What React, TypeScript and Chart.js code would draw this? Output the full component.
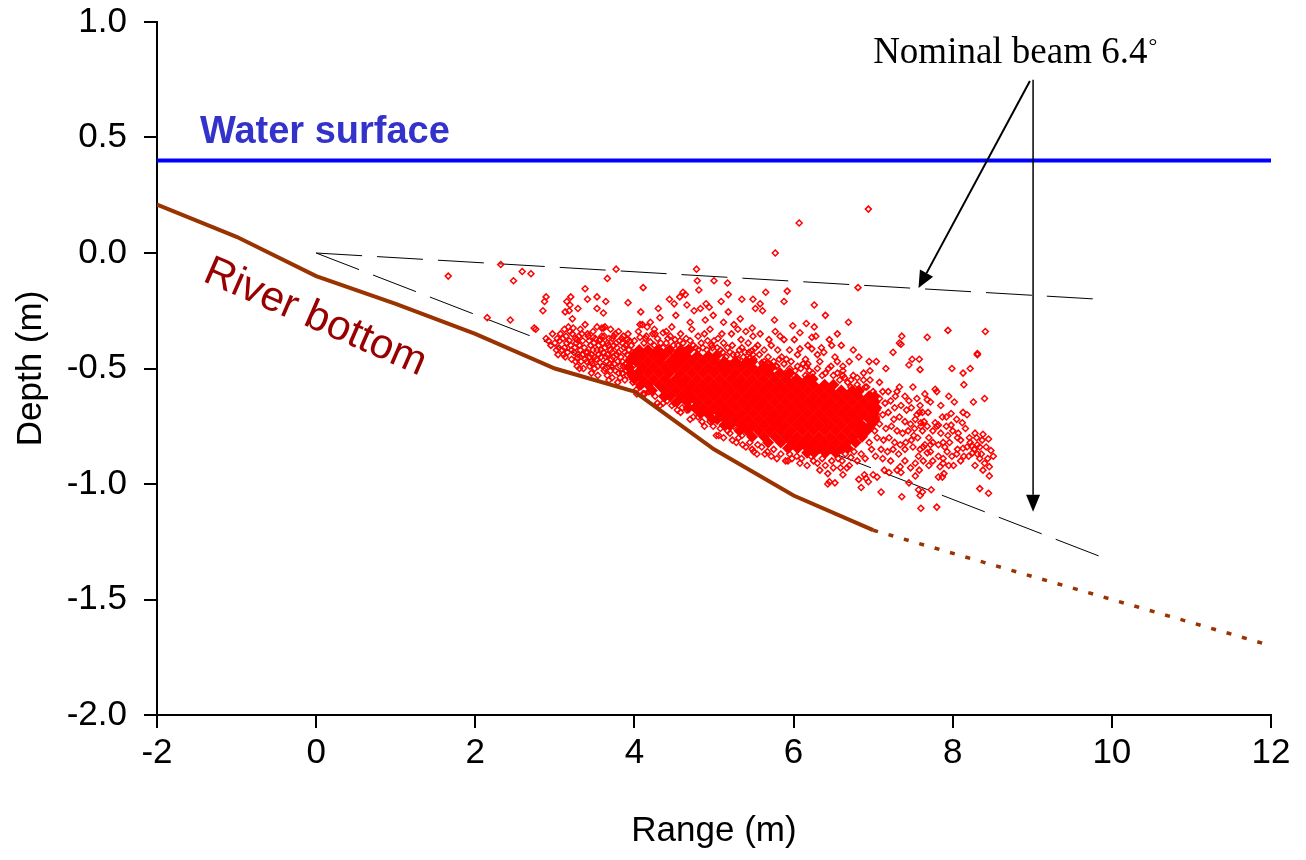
import React, { useEffect, useRef } from 'react';
import { Chart, registerables } from 'chart.js';

Chart.register(...registerables);

// ---------- axis ticks ----------
const xTicks = [-2, 0, 2, 4, 6, 8, 10, 12];
const yTicks = [1.0, 0.5, 0.0, -0.5, -1.0, -1.5, -2.0];

// ---------- lines ----------
const waterX = [-2, 12];
const waterY = [0.4, 0.4];
const bottomX = [-2, -1, 0, 1, 2, 3, 4, 5, 6, 7];
const bottomY = [0.21, 0.07, -0.1, -0.22, -0.35, -0.5, -0.6, -0.85, -1.05, -1.2];
const bottomExtX = [7, 12];
const bottomExtY = [-1.2, -1.7];
const beamUpperX = [0, 9.83];
const beamUpperY = [0, -0.2];
const beamLowerX = [0, 9.9];
const beamLowerY = [0, -1.32];

// ---------- dense core of echoes (rows of overlapping returns) ----------
const coreRowY = [-0.42, -0.445, -0.47, -0.495, -0.52, -0.545, -0.57, -0.595, -0.62, -0.645, -0.67, -0.695, -0.72, -0.745, -0.77, -0.795, -0.82, -0.845, -0.865];
const coreRowX = [
  [4.06, 4.17, 4.30, 4.44, 4.58, 4.68],
  [3.99, 4.10, 4.24, 4.37, 4.52, 4.65, 4.79, 4.93, 5.03],
  [3.95, 4.03, 4.17, 4.31, 4.45, 4.58, 4.72, 4.86, 5.00, 5.13, 5.27, 5.41, 5.48],
  [3.93, 4.10, 4.24, 4.38, 4.51, 4.65, 4.79, 4.93, 5.07, 5.20, 5.34, 5.48, 5.62, 5.72],
  [3.96, 4.04, 4.17, 4.31, 4.44, 4.58, 4.72, 4.86, 5.00, 5.14, 5.27, 5.41, 5.55, 5.69, 5.83, 5.95],
  [4.00, 4.10, 4.24, 4.38, 4.52, 4.65, 4.79, 4.93, 5.07, 5.21, 5.34, 5.48, 5.62, 5.76, 5.90, 6.04, 6.18, 6.24],
  [4.08, 4.17, 4.31, 4.45, 4.59, 4.72, 4.86, 5.00, 5.14, 5.28, 5.41, 5.55, 5.69, 5.83, 5.97, 6.11, 6.25, 6.39, 6.50],
  [4.22, 4.38, 4.52, 4.66, 4.79, 4.93, 5.07, 5.21, 5.35, 5.48, 5.62, 5.76, 5.90, 6.04, 6.18, 6.32, 6.46, 6.60, 6.74, 6.82],
  [4.37, 4.45, 4.59, 4.72, 4.86, 5.00, 5.14, 5.28, 5.42, 5.55, 5.69, 5.83, 5.97, 6.11, 6.25, 6.39, 6.53, 6.67, 6.81, 6.95, 7.02],
  [4.53, 4.66, 4.79, 4.93, 5.07, 5.21, 5.35, 5.49, 5.62, 5.76, 5.90, 6.04, 6.18, 6.32, 6.46, 6.60, 6.74, 6.88, 7.02],
  [4.68, 4.76, 4.86, 5.00, 5.14, 5.28, 5.42, 5.56, 5.69, 5.83, 5.97, 6.11, 6.25, 6.39, 6.53, 6.67, 6.81, 6.95, 7.04],
  [4.83, 4.93, 5.07, 5.21, 5.35, 5.49, 5.63, 5.76, 5.90, 6.04, 6.18, 6.32, 6.46, 6.60, 6.74, 6.88, 7.01],
  [4.98, 5.04, 5.14, 5.28, 5.42, 5.56, 5.70, 5.83, 5.97, 6.11, 6.25, 6.39, 6.53, 6.67, 6.81, 6.95, 7.02],
  [5.13, 5.21, 5.35, 5.49, 5.63, 5.77, 5.90, 6.04, 6.18, 6.32, 6.46, 6.60, 6.74, 6.86, 6.97],
  [5.32, 5.42, 5.56, 5.70, 5.84, 5.97, 6.11, 6.25, 6.39, 6.53, 6.67, 6.81, 6.92],
  [5.48, 5.63, 5.77, 5.91, 6.04, 6.18, 6.32, 6.46, 6.60, 6.74, 6.86],
  [5.68, 5.84, 5.98, 6.11, 6.25, 6.39, 6.53, 6.67, 6.78],
  [5.93, 6.05, 6.18, 6.32, 6.46, 6.60, 6.68],
  [6.17, 6.26, 6.40, 6.53],
];

// ---------- individual echoes ----------
const echoTop: [number, number][] = [
  [1.66, -0.10], [2.32, -0.05], [2.59, -0.08], [2.48, -0.12], [2.70, -0.09], [2.15, -0.28], [2.44, -0.29], [2.74, -0.325], [2.76, -0.33],
  [2.89, -0.19], [2.87, -0.21], [2.85, -0.25], [3.38, -0.155], [3.77, -0.07], [3.66, -0.11], [3.20, -0.19], [3.15, -0.21], [3.41, -0.20],
  [3.53, -0.19], [3.64, -0.21], [3.92, -0.215], [3.19, -0.225], [3.29, -0.24], [3.13, -0.255], [3.18, -0.25], [3.53, -0.24], [3.61, -0.26],
  [3.22, -0.285], [3.63, -0.32], [3.53, -0.32], [3.61, -0.325],
  [6.07, 0.13], [5.77, 0.00], [4.78, -0.07], [4.11, -0.15], [4.79, -0.12], [5.00, -0.12], [5.17, -0.13], [4.81, -0.16], [5.18, -0.18],
  [4.44, -0.20], [4.57, -0.19], [4.61, -0.17], [4.64, -0.18], [4.66, -0.225], [5.09, -0.21], [4.90, -0.22], [4.94, -0.235], [4.83, -0.24],
  [4.75, -0.25], [5.49, -0.20], [5.58, -0.22], [5.52, -0.24], [5.61, -0.25], [5.88, -0.21], [5.92, -0.165], [6.26, -0.225], [5.18, -0.255],
  [4.08, -0.255], [4.99, -0.27], [4.89, -0.29], [4.70, -0.30], [5.33, -0.285], [5.25, -0.31], [5.76, -0.29], [4.07, -0.31], [4.10, -0.31],
  [4.16, -0.32], [4.26, -0.35], [4.36, -0.345], [5.40, -0.34], [5.48, -0.325], [5.49, -0.36], [5.58, -0.35], [5.77, -0.34], [5.83, -0.36],
  [5.88, -0.375], [5.69, -0.375], [5.34, -0.375], [5.99, -0.315], [6.16, -0.305], [6.26, -0.32], [6.08, -0.345], [6.01, -0.375], [6.23, -0.365],
  [6.28, -0.36], [6.08, -0.415], [6.23, -0.415], [5.91, -0.46], [6.15, -0.46], [6.18, -0.48], [4.07, -0.365], [5.47, -0.425], [5.49, -0.44],
  [5.78, -0.49], [5.67, -0.475], [5.61, -0.48],
  [6.94, 0.19], [6.81, -0.15], [6.69, -0.30], [6.45, -0.375], [6.38, -0.43], [7.36, -0.36], [7.33, -0.39], [7.35, -0.395], [7.25, -0.43],
  [7.68, -0.365], [7.94, -0.335], [8.41, -0.34], [8.31, -0.435], [8.31, -0.44], [7.04, -0.47], [6.62, -0.49], [7.16, -0.50], [7.49, -0.46],
  [7.58, -0.46], [7.45, -0.485], [7.99, -0.50], [8.22, -0.50], [7.59, -0.505],
  [4.20, -0.30], [4.32, -0.28], [4.47, -0.32], [4.52, -0.27], [4.58, -0.35], [4.72, -0.33], [4.80, -0.36], [4.95, -0.33], [5.05, -0.37],
  [5.12, -0.30], [5.22, -0.35], [5.30, -0.33], [5.43, -0.39], [5.55, -0.40], [5.63, -0.42], [5.72, -0.40], [5.80, -0.42], [5.95, -0.42],
  [6.05, -0.44], [6.18, -0.40], [6.35, -0.41], [6.48, -0.40], [6.55, -0.47], [6.70, -0.47], [6.82, -0.45], [6.95, -0.47], [4.25, -0.33],
  [4.40, -0.34], [4.88, -0.35], [5.00, -0.38], [5.12, -0.39], [5.35, -0.41], [5.10, -0.35], [4.65, -0.37], [4.30, -0.24], [4.50, -0.22],
  [5.35, -0.20], [5.65, -0.17], [6.40, -0.27], [6.55, -0.35], [6.60, -0.40], [6.75, -0.42],
];

const echoTail: [number, number][] = [
  [8.13, -0.52], [8.14, -0.57], [8.40, -0.63], [8.26, -0.645], [8.02, -0.645], [8.13, -0.69], [8.18, -0.70], [7.87, -0.71], [7.72, -0.645],
  [7.68, -0.635], [7.59, -0.66], [7.33, -0.58], [7.28, -0.62], [7.19, -0.60], [7.62, -0.69], [7.69, -0.69], [7.64, -0.73], [7.78, -0.735],
  [7.80, -0.75], [7.98, -0.745], [8.12, -0.735], [8.16, -0.76], [7.60, -0.75], [7.68, -0.75], [7.94, -0.79], [8.07, -0.78], [8.21, -0.80],
  [8.38, -0.785], [8.45, -0.805], [8.37, -0.81], [8.31, -0.83], [8.34, -0.84], [8.42, -0.84], [8.48, -0.855], [8.51, -0.88], [8.25, -0.865],
  [8.31, -0.87], [8.34, -0.89], [8.44, -0.89], [8.46, -0.925], [8.46, -0.965], [8.38, -0.94], [8.34, -1.02], [8.45, -1.04], [8.01, -0.92],
  [7.87, -0.97], [7.82, -0.97], [7.89, -0.955], [7.73, -1.025], [7.80, -1.10], [7.60, -1.105], [7.59, -1.05], [7.62, -1.035], [7.57, -1.025],
  [7.45, -0.995], [7.36, -1.055], [7.10, -1.035], [7.34, -0.925], [7.35, -0.95], [7.14, -0.94], [7.05, -0.97], [7.53, -0.965], [6.85, -1.015],
  [6.82, -0.98], [6.91, -0.975], [6.89, -0.96], [7.00, -0.96], [6.94, -0.99], [6.72, -0.885],
  [8.13, -0.845], [8.14, -0.88], [8.06, -0.85], [7.99, -0.88], [7.93, -0.86], [7.88, -0.89], [7.82, -0.88], [7.75, -0.90], [7.88, -0.91],
  [7.84, -0.925], [7.65, -0.83], [7.72, -0.83], [7.75, -0.82], [7.82, -0.83], [7.88, -0.82], [7.96, -0.82], [8.22, -0.82], [8.27, -0.85],
  [8.24, -0.835], [7.82, -0.745], [7.98, -0.695], [7.60, -0.735], [7.75, -0.77], [7.50, -0.84], [7.59, -0.85], [7.57, -0.88], [7.63, -0.90],
  [7.68, -0.865], [7.47, -0.93], [7.53, -0.91], [7.78, -0.59], [7.80, -0.60], [7.58, -0.69], [8.06, -0.80], [8.28, -0.78],
  [7.00, -0.60], [7.08, -0.63], [7.15, -0.65], [7.22, -0.64], [7.27, -0.67], [7.35, -0.66], [7.42, -0.68], [7.48, -0.67], [7.55, -0.70],
  [7.05, -0.68], [7.12, -0.70], [7.19, -0.69], [7.26, -0.72], [7.33, -0.71], [7.40, -0.73], [7.47, -0.74], [7.53, -0.72], [7.08, -0.74],
  [7.16, -0.76], [7.23, -0.75], [7.30, -0.77], [7.37, -0.78], [7.44, -0.77], [7.51, -0.79], [7.05, -0.80], [7.13, -0.81], [7.20, -0.80],
  [7.27, -0.82], [7.34, -0.83], [7.41, -0.82], [7.10, -0.85], [7.18, -0.86], [7.25, -0.85], [7.32, -0.87], [7.03, -0.88], [7.12, -0.89],
  [7.22, -0.90], [6.98, -0.85], [6.99, -0.71], [7.02, -0.77], [7.40, -0.62], [7.30, -0.60], [7.45, -0.64], [6.62, -0.53], [6.72, -0.55],
  [6.80, -0.54], [6.88, -0.52], [6.96, -0.51], [6.96, -0.55], [6.92, -0.58], [7.08, -0.56], [7.12, -0.60],
  [7.62, -0.77], [7.70, -0.80], [7.85, -0.78], [7.92, -0.75], [8.00, -0.77], [8.10, -0.81], [8.18, -0.84], [8.30, -0.80], [8.36, -0.87],
  [8.40, -0.91], [8.28, -0.92], [8.20, -0.88], [8.10, -0.90], [7.95, -0.92], [7.70, -0.92], [7.58, -0.94], [7.40, -0.90], [7.30, -0.94],
  [7.20, -0.95], [7.40, -0.85], [7.48, -0.81], [7.56, -0.80], [7.63, -0.84], [7.72, -0.86], [7.90, -0.84], [8.05, -0.87], [7.65, -0.61],
  [7.55, -0.63], [7.50, -0.58], [7.85, -0.66], [7.95, -0.62], [8.05, -0.72], [7.92, -0.71], [7.52, -0.76],
];

const echoFringe: [number, number][] = [
  [4.20, -0.385], [4.36, -0.41], [4.51, -0.375], [4.61, -0.39], [4.74, -0.40], [4.86, -0.41], [4.98, -0.41], [5.08, -0.42], [5.20, -0.43],
  [5.29, -0.44], [5.39, -0.43], [5.45, -0.455], [5.60, -0.475], [5.70, -0.48], [5.79, -0.49], [5.95, -0.50], [6.05, -0.49], [6.20, -0.51],
  [6.30, -0.50], [6.40, -0.52], [6.50, -0.53], [6.58, -0.55], [6.68, -0.56], [6.80, -0.57], [6.90, -0.58], [6.33, -0.47], [6.47, -0.49],
  [6.62, -0.51], [6.75, -0.53], [6.88, -0.55], [6.30, -0.44], [6.52, -0.45], [6.12, -0.48], [5.85, -0.45], [5.52, -0.41], [5.23, -0.40],
  [4.92, -0.38], [4.45, -0.36], [4.29, -0.37], [4.00, -0.38], [4.12, -0.39], [4.25, -0.40], [4.40, -0.39], [4.55, -0.40], [4.68, -0.41],
  [4.80, -0.42], [4.15, -0.36], [5.30, -0.46], [5.40, -0.47], [5.15, -0.45], [5.90, -0.52], [6.00, -0.53], [6.15, -0.53],
  [4.05, -0.34], [4.14, -0.37], [4.23, -0.35], [4.33, -0.39], [4.42, -0.37], [4.49, -0.40], [4.57, -0.38], [4.64, -0.42], [4.70, -0.38],
  [4.77, -0.41], [4.84, -0.39], [4.91, -0.42], [4.97, -0.40], [5.04, -0.41], [5.11, -0.43], [5.17, -0.41], [5.24, -0.44], [5.32, -0.42],
  [5.37, -0.45], [5.44, -0.43], [5.50, -0.46], [5.57, -0.44], [5.63, -0.47], [5.68, -0.45], [5.75, -0.47], [5.82, -0.46], [5.88, -0.48],
  [5.97, -0.47], [6.02, -0.51], [6.09, -0.50], [6.16, -0.49], [6.24, -0.52], [6.36, -0.53], [6.44, -0.50], [6.55, -0.52], [6.64, -0.54],
  [6.72, -0.58], [6.84, -0.60], [6.93, -0.62], [7.02, -0.64], [4.22, -0.43], [4.34, -0.44], [4.48, -0.43], [4.62, -0.44], [4.76, -0.45],
  [4.90, -0.46], [5.05, -0.47], [5.20, -0.48], [5.34, -0.49], [5.50, -0.51], [5.64, -0.52], [5.78, -0.53], [5.92, -0.55],
  [4.29, -0.65], [4.36, -0.65], [4.54, -0.68], [4.74, -0.71], [4.91, -0.70], [5.06, -0.79], [5.28, -0.82], [5.40, -0.84], [5.54, -0.87],
  [5.67, -0.86], [5.79, -0.89], [5.93, -0.90], [6.17, -0.92], [6.04, -0.88], [4.13, -0.61], [4.03, -0.59], [4.99, -0.75], [5.17, -0.77],
  [5.25, -0.75], [4.41, -0.64], [4.32, -0.66], [4.11, -0.61], [5.03, -0.79], [5.23, -0.81], [5.36, -0.83], [5.50, -0.86], [5.64, -0.87],
  [5.90, -0.90], [6.43, -1.00], [6.52, -0.995], [6.62, -0.96], [6.43, -0.955], [6.33, -0.94], [6.59, -0.93], [6.25, -0.90], [6.40, -0.92],
  [6.50, -0.93], [6.70, -0.92], [6.80, -0.90], [6.90, -0.89], [5.35, -0.79], [5.55, -0.83], [5.75, -0.85], [5.95, -0.87], [6.10, -0.89],
  [4.60, -0.67], [4.85, -0.73], [4.47, -0.66], [6.61, -0.90], [6.67, -0.93], [6.45, -0.99],
  [4.06, -0.58], [4.18, -0.60], [4.26, -0.62], [4.38, -0.63], [4.50, -0.65], [4.58, -0.69], [4.66, -0.68], [4.70, -0.72], [4.80, -0.71],
  [4.88, -0.75], [4.95, -0.73], [5.08, -0.76], [5.12, -0.80], [5.20, -0.78], [5.31, -0.80], [5.45, -0.82], [5.48, -0.85], [5.60, -0.84],
  [5.72, -0.88], [5.84, -0.87], [5.98, -0.89], [6.08, -0.91], [6.22, -0.88], [6.30, -0.91], [6.36, -0.89], [6.48, -0.90], [6.56, -0.89],
  [6.65, -0.87], [6.76, -0.86], [6.85, -0.87], [6.95, -0.82], [7.00, -0.74], [6.98, -0.66], [7.04, -0.71],
];

const echoLeft: [number, number][] = [
  [2.89, -0.37], [2.92, -0.38], [2.95, -0.40], [3.03, -0.37], [3.07, -0.35], [3.12, -0.33], [3.17, -0.32], [3.22, -0.35], [3.23, -0.325],
  [3.32, -0.33], [3.38, -0.31], [3.28, -0.375], [3.15, -0.39], [3.09, -0.42], [3.04, -0.44], [3.13, -0.45], [3.28, -0.455], [3.28, -0.49],
  [3.46, -0.52], [3.41, -0.35], [3.48, -0.365], [3.59, -0.325], [3.57, -0.375], [3.66, -0.39], [3.72, -0.37], [3.78, -0.41], [3.85, -0.39],
  [3.91, -0.375], [3.73, -0.45], [3.61, -0.43], [3.48, -0.42], [3.41, -0.43], [3.32, -0.42], [3.57, -0.475], [3.82, -0.49], [3.72, -0.54],
  [3.82, -0.54], [3.98, -0.56], [4.03, -0.61], [4.11, -0.61],
  [3.35, -0.38], [3.45, -0.40], [3.55, -0.40], [3.62, -0.36], [3.70, -0.42], [3.78, -0.44], [3.88, -0.43], [3.93, -0.46], [3.85, -0.47],
  [3.75, -0.48], [3.65, -0.47], [3.52, -0.46], [3.40, -0.47], [3.35, -0.44], [3.25, -0.41], [3.18, -0.38], [3.12, -0.41], [3.62, -0.51],
  [3.70, -0.51], [3.90, -0.51], [3.95, -0.53], [3.85, -0.52], [3.50, -0.50], [3.55, -0.44], [3.96, -0.40], [3.98, -0.43], [3.92, -0.35],
  [3.86, -0.36], [3.80, -0.34], [3.70, -0.33], [3.48, -0.34], [3.98, -0.49],
  [3.00, -0.39], [3.05, -0.41], [3.10, -0.37], [3.14, -0.36], [3.20, -0.40], [3.24, -0.43], [3.27, -0.39], [3.30, -0.36], [3.33, -0.47],
  [3.37, -0.41], [3.43, -0.38], [3.44, -0.45], [3.47, -0.48], [3.51, -0.37], [3.53, -0.42], [3.58, -0.45], [3.60, -0.39], [3.63, -0.41],
  [3.66, -0.44], [3.68, -0.37], [3.71, -0.46], [3.74, -0.40], [3.76, -0.35], [3.79, -0.47], [3.81, -0.38], [3.83, -0.45], [3.87, -0.41],
  [3.89, -0.48], [3.91, -0.44], [3.94, -0.38], [3.60, -0.49], [3.66, -0.53], [3.76, -0.51], [3.88, -0.55], [3.44, -0.49], [3.21, -0.46],
  [3.16, -0.43], [3.36, -0.50], [3.54, -0.53], [3.79, -0.56],
  [2.97, -0.35], [3.02, -0.42], [3.06, -0.38], [3.11, -0.44], [3.19, -0.34], [3.21, -0.42], [3.26, -0.37], [3.29, -0.44], [3.31, -0.40],
  [3.34, -0.35], [3.39, -0.43], [3.42, -0.36], [3.46, -0.44], [3.49, -0.39], [3.50, -0.45], [3.56, -0.38], [3.58, -0.42], [3.59, -0.36],
  [3.64, -0.45], [3.67, -0.40], [3.69, -0.48], [3.72, -0.43], [3.74, -0.36], [3.77, -0.39], [3.80, -0.43], [3.84, -0.37], [3.86, -0.49],
  [3.89, -0.40], [3.93, -0.42], [3.95, -0.47], [3.38, -0.46], [3.46, -0.47], [3.54, -0.49], [3.63, -0.50], [3.71, -0.49], [3.80, -0.52],
  [3.91, -0.53], [3.68, -0.55], [3.26, -0.47], [3.31, -0.50],
];

const SANS = '"Liberation Sans", Arial, sans-serif';
const SERIF = '"Liberation Serif", "Times New Roman", serif';

const toXY = (xs: number[], ys: number[]) => xs.map((x, i) => ({ x, y: ys[i] }));

function drawArrow(ctx: CanvasRenderingContext2D, x1: number, y1: number, x2: number, y2: number, len: number, w: number) {
  const a = Math.atan2(y2 - y1, x2 - x1);
  const bx = x2 - len * Math.cos(a);
  const by = y2 - len * Math.sin(a);
  ctx.beginPath();
  ctx.moveTo(x1, y1);
  ctx.lineTo(bx, by);
  ctx.stroke();
  ctx.beginPath();
  ctx.moveTo(x2, y2);
  ctx.lineTo(bx + (w / 2) * Math.sin(a), by - (w / 2) * Math.cos(a));
  ctx.lineTo(bx - (w / 2) * Math.sin(a), by + (w / 2) * Math.cos(a));
  ctx.closePath();
  ctx.fill();
}

const annotations = {
  id: 'annotations',
  afterDatasetsDraw(chart: any) {
    const { ctx } = chart;
    const xs = chart.scales.x;
    const ys = chart.scales.y;
    const px = (v: number) => xs.getPixelForValue(v);
    const py = (v: number) => ys.getPixelForValue(v);
    ctx.save();

    // Water surface label
    ctx.font = `bold 38px ${SANS}`;
    ctx.fillStyle = '#3333CC';
    ctx.textAlign = 'left';
    ctx.textBaseline = 'alphabetic';
    ctx.fillText('Water surface', px(-1.46), py(0.476));

    // River bottom label (rotated)
    ctx.save();
    ctx.translate(px(-0.07), py(-0.325));
    ctx.rotate((23.6 * Math.PI) / 180);
    ctx.font = `42px ${SANS}`;
    ctx.fillStyle = '#990000';
    ctx.textAlign = 'center';
    ctx.fillText('River bottom', 0, 0);
    ctx.restore();

    // Nominal beam label
    ctx.font = `37px ${SERIF}`;
    ctx.fillStyle = '#000000';
    ctx.textAlign = 'left';
    const tx = px(7.0);
    const ty = py(0.823);
    const main = 'Nominal beam 6.4';
    ctx.fillText(main, tx, ty);
    const mw = ctx.measureText(main).width;
    ctx.font = `22px ${SERIF}`;
    ctx.fillText('°', tx + mw + 1, ty - 10);

    // Arrows
    ctx.strokeStyle = '#000000';
    ctx.fillStyle = '#000000';
    ctx.lineWidth = 2;
    drawArrow(ctx, px(8.97), py(0.745), px(7.57), py(-0.152), 17, 15);
    ctx.lineWidth = 1.5;
    drawArrow(ctx, px(9.01), py(0.75), px(9.01), py(-1.12), 17, 14);

    ctx.restore();
  },
};

export default function App() {
  const canvasRef = useRef<HTMLCanvasElement | null>(null);

  useEffect(() => {
    document.body.style.margin = '0';
    const canvas = canvasRef.current;
    if (!canvas) return;

    const coreData = coreRowX.flatMap((row, i) => row.map((x) => ({ x, y: coreRowY[i] })));
    const echoData = [...echoLeft, ...echoTop, ...echoFringe, ...echoTail].map(([x, y]) => ({ x, y }));

    const chart = new Chart(canvas, {
      type: 'scatter',
      data: {
        datasets: [
          {
            label: 'Water surface',
            data: toXY(waterX, waterY),
            showLine: true,
            borderColor: '#0000FF',
            borderWidth: 4,
            pointRadius: 0,
            order: 0,
          } as any,
          {
            label: 'River bottom',
            data: toXY(bottomX, bottomY),
            showLine: true,
            borderColor: '#993300',
            borderWidth: 4,
            pointRadius: 0,
            order: 0,
          },
          {
            label: 'River bottom (extrapolated)',
            data: toXY(bottomExtX, bottomExtY),
            showLine: true,
            borderColor: '#993300',
            borderWidth: 3.5,
            borderDash: [5, 11],
            pointRadius: 0,
            order: 0,
          },
          {
            label: 'Beam upper',
            data: toXY(beamUpperX, beamUpperY),
            showLine: true,
            borderColor: '#000000',
            borderWidth: 1,
            borderDash: [46, 15],
            pointRadius: 0,
            order: 5,
          },
          {
            label: 'Beam lower',
            data: toXY(beamLowerX, beamLowerY),
            showLine: true,
            borderColor: '#000000',
            borderWidth: 1,
            borderDash: [46, 15],
            pointRadius: 0,
            order: 5,
          },
          {
            label: 'Echoes',
            data: echoData,
            showLine: false,
            pointStyle: 'rectRot',
            pointRadius: 3,
            pointBorderWidth: 1.5,
            pointBorderColor: '#FF0000',
            pointBackgroundColor: 'rgba(0,0,0,0)',
            borderColor: '#FF0000',
            backgroundColor: 'rgba(0,0,0,0)',
            order: 1,
          } as any,
          {
            label: 'Echoes (dense)',
            data: coreData,
            showLine: false,
            pointStyle: 'rectRot',
            pointRadius: 6,
            pointBorderWidth: 0,
            pointBackgroundColor: '#FF0000',
            backgroundColor: '#FF0000',
            borderColor: '#FF0000',
            order: 2,
          } as any,
        ],
      },
      options: {
        animation: false,
        responsive: false,
        devicePixelRatio: 1,
        layout: { padding: { top: 22, right: 35, left: 0, bottom: 0 } },
        plugins: {
          legend: { display: false },
          tooltip: { enabled: false },
        },
        scales: {
          x: {
            type: 'linear',
            min: -2,
            max: 12,
            afterBuildTicks: (s: any) => {
              s.ticks = xTicks.map((v) => ({ value: v }));
            },
            afterFit: (s: any) => {
              s.height = 145;
              s.paddingLeft = 0;
              s.paddingRight = 0;
            },
            ticks: {
              color: '#000',
              font: { family: SANS, size: 35 },
              padding: 4,
              maxRotation: 0,
              autoSkip: false,
              callback: (v: any) => String(v),
            },
            grid: { drawOnChartArea: false, drawTicks: true, tickLength: 13, color: '#000', lineWidth: 2 },
            border: { display: true, color: '#000', width: 2 },
            title: {
              display: true,
              text: 'Range (m)',
              color: '#000',
              font: { family: SANS, size: 35 },
              padding: { top: 0, bottom: 8 },
            },
          },
          y: {
            type: 'linear',
            min: -2,
            max: 1,
            afterBuildTicks: (s: any) => {
              s.ticks = yTicks.map((v) => ({ value: v }));
            },
            afterFit: (s: any) => {
              s.width = 157;
              s.paddingTop = 0;
              s.paddingBottom = 0;
            },
            ticks: {
              color: '#000',
              font: { family: SANS, size: 35 },
              padding: 17,
              autoSkip: false,
              callback: (v: any) => Number(v).toFixed(1),
            },
            grid: { drawOnChartArea: false, drawTicks: true, tickLength: 13, color: '#000', lineWidth: 2 },
            border: { display: true, color: '#000', width: 2 },
            title: {
              display: true,
              text: 'Depth (m)',
              color: '#000',
              font: { family: SANS, size: 35 },
              padding: { top: 10, bottom: 0 },
            },
          },
        },
      },
      plugins: [annotations],
    });

    return () => chart.destroy();
  }, []);

  return (
    <div style={{ width: 1306, height: 860, position: 'relative' }}>
      <canvas ref={canvasRef} width={1306} height={860} />
    </div>
  );
}
